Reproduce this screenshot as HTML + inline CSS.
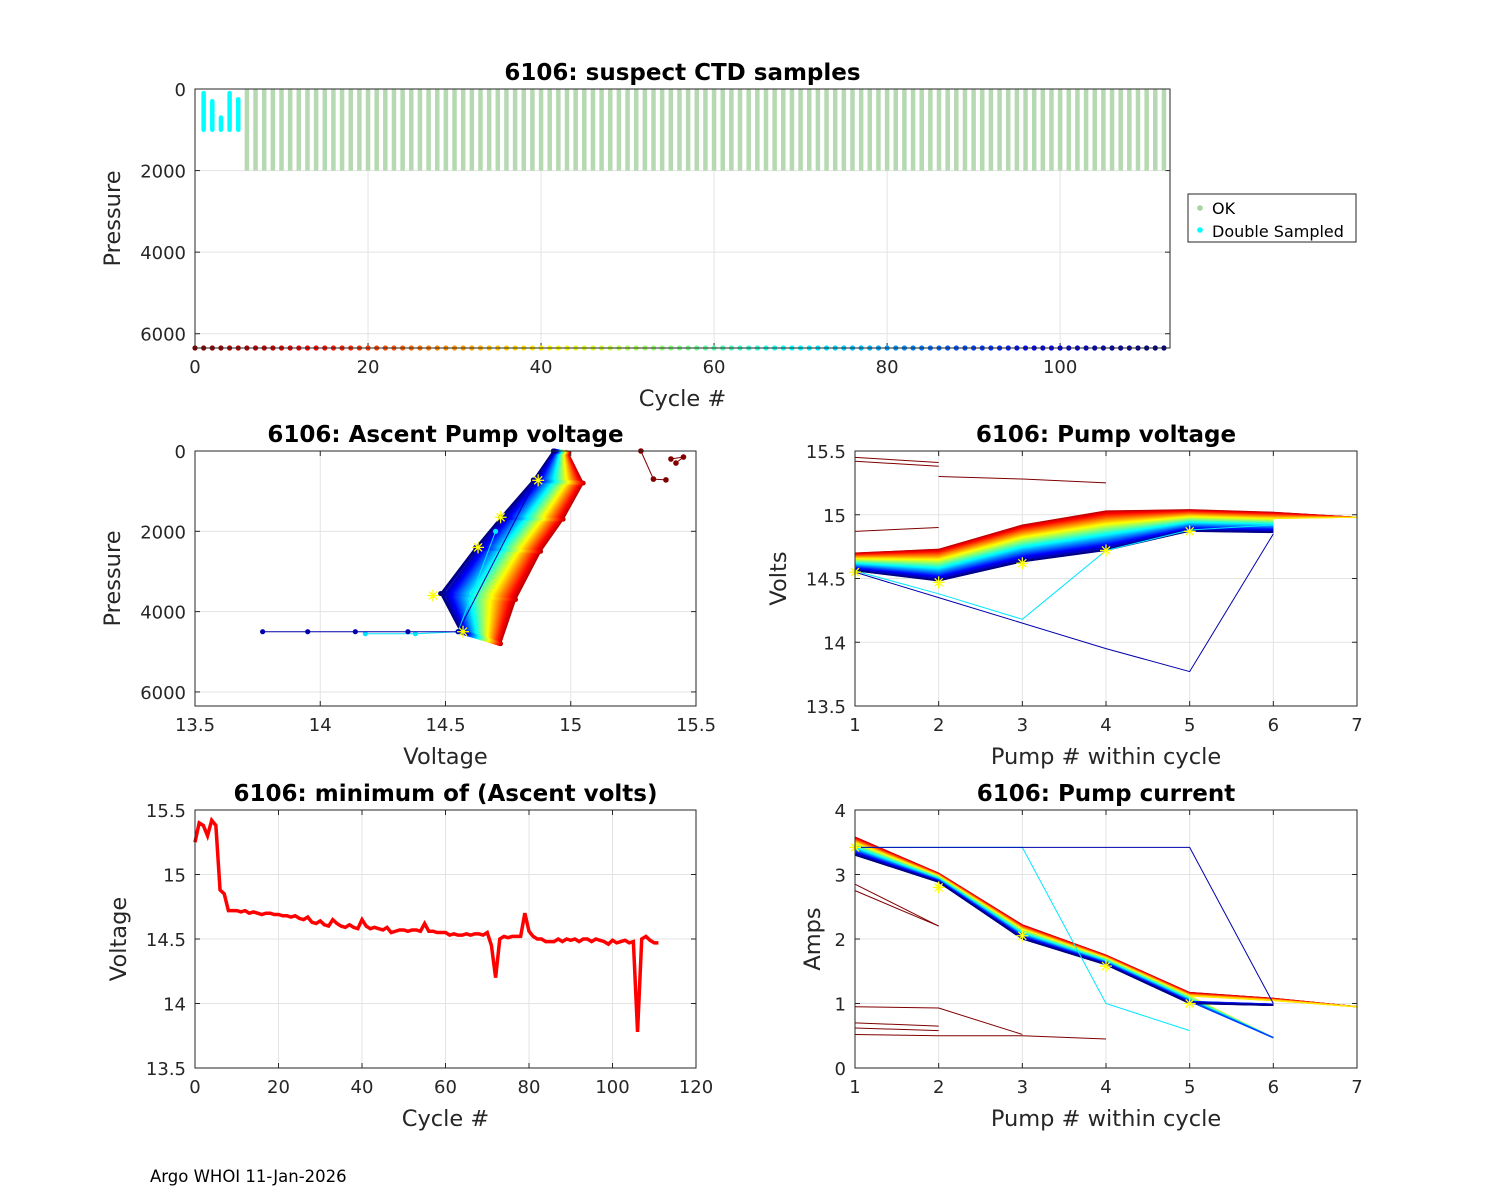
<!DOCTYPE html>
<html><head><meta charset="utf-8">
<style>
body{margin:0;background:#fff;}
svg{display:block;font-family:"DejaVu Sans","Liberation Sans",sans-serif;}
.tick{font-size:18px;fill:#262626;}
.lab{font-size:22.5px;fill:#262626;}
.ttl{font-size:23px;font-weight:bold;fill:#000;}
</style></head>
<body>
<svg id="fig" width="1500" height="1200" xmlns="http://www.w3.org/2000/svg">
<rect width="1500" height="1200" fill="#fff"/>
<text x="150" y="1182" font-size="16.5" fill="#000">Argo WHOI 11-Jan-2026</text>
</svg>
<script>
// ---- data ----
const minVolts = [15.25,15.40,15.38,15.30,15.42,15.38,14.88,14.85,14.72,
14.72,14.72,14.71,14.72,14.70,14.71,14.70,14.69,14.70,14.70,14.69,
14.69,14.68,14.68,14.67,14.68,14.66,14.65,14.67,14.63,14.62,
14.64,14.61,14.60,14.65,14.62,14.60,14.59,14.61,14.59,14.58,
14.65,14.60,14.58,14.59,14.58,14.57,14.59,14.55,14.56,14.57,
14.57,14.56,14.57,14.57,14.56,14.62,14.56,14.56,14.55,14.55,
14.55,14.53,14.54,14.53,14.53,14.54,14.53,14.54,14.54,14.53,
14.55,14.45,14.20,14.50,14.52,14.51,14.52,14.52,14.52,14.70,
14.56,14.52,14.50,14.50,14.48,14.48,14.48,14.50,14.48,14.50,
14.49,14.50,14.48,14.50,14.50,14.48,14.50,14.49,14.48,14.46,
14.49,14.47,14.48,14.49,14.47,14.48,13.78,14.50,14.52,14.49,
14.47,14.47];
const okCycles = [6,112];
const okPressure = [0,2000];
const dblCycles = [1,2,3,4,5];
const dblTop = [100,300,700,100,250];
const dblBottom = [1000,1000,1000,1000,1000];
const ascPEarly = [50,800,1700,2500,3700,4800];
const ascVEarly = [14.99,15.05,14.97,14.88,14.78,14.72];
const ascPLate = [0,720,1650,2400,3550,4500];
const ascVLate = [14.93,14.85,14.72,14.62,14.48,14.56];
const earlyAscV = [15.28,15.33,15.38,15.42,15.45,15.40];
const earlyAscP = [0,700,720,300,150,200];
const outAscV106 = [13.77,13.95,14.14,14.35,14.55,14.86];
const outAscP106 = [4500,4500,4500,4500,4500,730];
const outAscV72 = [14.18,14.38,14.55,14.70];
const outAscP72 = [4550,4550,4500,2000];
const pumpVEarly = [14.70,14.73,14.92,15.03,15.04,15.02,14.98];
const pumpVLate = [14.56,14.48,14.63,14.72,14.87,14.86];
const pumpVOut106 = [14.55,14.35,14.15,13.95,13.77,14.85];
const pumpVOut72 = [14.56,14.38,14.18,14.72,14.88,14.92];
const pumpVOld = [[15.45,15.41],[15.42,15.38],[15.30,15.28,15.25],[14.87,14.90]];
const pumpVOldStart = [1,1,2,1];
const pumpIEarly = [3.58,3.02,2.22,1.75,1.17,1.08,0.95];
const pumpILate = [3.30,2.88,2.00,1.60,1.00,0.97];
const pumpIOut106 = [3.42,3.42,3.42,3.42,3.42,1.00];
const pumpIOut72 = [3.42,3.42,3.42,1.00,0.58];
const pumpIOld = [[0.95,0.93,0.52],[0.70,0.65],[0.62,0.58],[0.52,0.50,0.50,0.45],[2.85,2.20],[2.75,2.20]];
const lowSixthCycles = [40,90];
const lowSixthAmps = 0.47;
const starsV = [14.55,14.47,14.62,14.72,14.87];
const starsI = [3.42,2.80,2.05,1.58,1.00];
const starsAscV = [14.87,14.72,14.63,14.45,14.57];
const starsAscP = [730,1650,2400,3600,4500];

// ---- helpers ----
const NS="http://www.w3.org/2000/svg";
const fig=document.getElementById('fig');
function mk(tag,attrs,parent){const e=document.createElementNS(NS,tag);for(const k in attrs)e.setAttribute(k,attrs[k]);(parent||fig).appendChild(e);return e;}
function jet(v){
  const r=Math.max(0,Math.min(1,1.5-Math.abs(4*v-3)));
  const g=Math.max(0,Math.min(1,1.5-Math.abs(4*v-2)));
  const b=Math.max(0,Math.min(1,1.5-Math.abs(4*v-1)));
  return `rgb(${Math.round(r*255)},${Math.round(g*255)},${Math.round(b*255)})`;}
function cycColor(c){return jet(1-c/111);}
function axes(o){
  const {x0,x1,y0,y1,xmin,xmax,ymin,ymax,xt,yt,rev,name}=o;
  const g=mk('g',{});
  
  
  const X=v=>x0+(v-xmin)/(xmax-xmin)*(x1-x0);
  const Y=rev? v=>y0+(v-ymin)/(ymax-ymin)*(y1-y0) : v=>y1-(v-ymin)/(ymax-ymin)*(y1-y0);
  mk('rect',{x:x0,y:y0,width:x1-x0,height:y1-y0,fill:'#fff'},g);
  xt.forEach(t=>{const x=X(t);mk('line',{x1:x,x2:x,y1:y0,y2:y1,stroke:'#e3e3e3','stroke-width':1},g);
    mk('line',{x1:x,x2:x,y1:y1,y2:y1-5,stroke:'#262626'},g);mk('line',{x1:x,x2:x,y1:y0,y2:y0+5,stroke:'#262626'},g);
    const tx=mk('text',{x:x,y:y1+25,'text-anchor':'middle',class:'tick'},g);tx.textContent=t;
    
    });
  yt.forEach(t=>{const y=Y(t);mk('line',{x1:x0,x2:x1,y1:y,y2:y,stroke:'#e3e3e3','stroke-width':1},g);
    mk('line',{x1:x0,x2:x0+5,y1:y,y2:y,stroke:'#262626'},g);mk('line',{x1:x1,x2:x1-5,y1:y,y2:y,stroke:'#262626'},g);
    const tx=mk('text',{x:x0-9,y:y+7,'text-anchor':'end',class:'tick'},g);tx.textContent=t;
    
    });
  const data=mk('g',{},g);
  
  
  const fr=mk('rect',{x:x0,y:y0,width:x1-x0,height:y1-y0,fill:'none',stroke:'#262626','stroke-width':1},g);
  
  
  const tt=mk('text',{x:(x0+x1)/2,y:y0-9,'text-anchor':'middle',class:'ttl'},g);tt.textContent=o.title;
  
  
  const xl=mk('text',{x:(x0+x1)/2,y:y1+58,'text-anchor':'middle',class:'lab'},g);xl.textContent=o.xlabel;
  
  
  const yl=mk('text',{x:0,y:0,'text-anchor':'middle',class:'lab',transform:`translate(${o.ylx},${(y0+y1)/2}) rotate(-90)`},g);yl.textContent=o.ylabel;
  
  
  return {X,Y,g:data};}
function poly(ax,xs,ys,col,w,name){const p=mk('polyline',{points:xs.map((v,i)=>ax.X(v)+','+ax.Y(ys[i])).join(' '),fill:'none',stroke:col,'stroke-width':w||1},ax.g);
  
  return p;}
function dots(ax,xs,ys,col,r){xs.forEach((v,i)=>{const d=mk('circle',{cx:ax.X(v),cy:ax.Y(ys[i]),r:r||2.5,fill:col},ax.g);
  
  });}
function star(ax,x,y){const cx=ax.X(x),cy=ax.Y(y),s=6;const g=mk('g',{stroke:'#ffff00','stroke-width':1.3},ax.g);
  
  
  mk('line',{x1:cx-s,x2:cx+s,y1:cy,y2:cy},g);mk('line',{x1:cx,x2:cx,y1:cy-s,y2:cy+s},g);
  mk('line',{x1:cx-4,x2:cx+4,y1:cy-4,y2:cy+4},g);mk('line',{x1:cx-4,x2:cx+4,y1:cy+4,y2:cy-4},g);}
const lerp=(a,b,t)=>a+(b-a)*t;
const tOf=c=>(c-6)/(111-6);

// ---- top ----
const A1=axes({x0:195,x1:1170,y0:89,y1:348,xmin:0,xmax:112.7,ymin:0,ymax:6350,rev:true,
 xt:[0,20,40,60,80,100],yt:[0,2000,4000,6000],title:'6106: suspect CTD samples',xlabel:'Cycle #',ylabel:'Pressure',ylx:120,name:'suspect-ctd-chart'});
for(let c=okCycles[0];c<=okCycles[1];c++){
  const b=mk('line',{x1:A1.X(c),x2:A1.X(c),y1:A1.Y(okPressure[0]),y2:A1.Y(okPressure[1]),stroke:'#b5d9b0','stroke-width':4.5},A1.g);
  
  }
dblCycles.forEach((c,i)=>{const b=mk('line',{x1:A1.X(c),x2:A1.X(c),y1:A1.Y(dblTop[i]),y2:A1.Y(dblBottom[i]),stroke:'#00ffff','stroke-width':4.5,'stroke-linecap':'round'},A1.g);
  
  });
for(let c=0;c<=112;c++){const d=mk('circle',{cx:A1.X(c),cy:348,r:2.6,fill:cycColor(Math.min(c,111))},A1.g);
  
  }
const lg=mk('g',{});


mk('rect',{x:1188,y:194,width:168,height:48,fill:'#fff',stroke:'#262626'},lg);
mk('circle',{cx:1200,cy:208,r:2.8,fill:'#a6d49f'},lg);
mk('circle',{cx:1200,cy:230,r:2.8,fill:'#00ffff'},lg);
const l1=mk('text',{x:1212,y:214,'font-size':16,fill:'#000'},lg);l1.textContent='OK';


const l2=mk('text',{x:1212,y:237,'font-size':16,fill:'#000'},lg);l2.textContent='Double Sampled';



// ---- middle left ----
const A2=axes({x0:195,x1:696,y0:451,y1:706,xmin:13.5,xmax:15.5,ymin:0,ymax:6350,rev:true,
 xt:[13.5,14,14.5,15,15.5],yt:[0,2000,4000,6000],title:'6106: Ascent Pump voltage',xlabel:'Voltage',ylabel:'Pressure',ylx:120,name:'ascent-pump-voltage-chart'});
poly(A2,earlyAscV.slice(0,3),earlyAscP.slice(0,3),'#800000',1);dots(A2,earlyAscV,earlyAscP,'#800000',2.8);
poly(A2,earlyAscV.slice(3),earlyAscP.slice(3),'#800000',1);
for(let c=6;c<=111;c++){if(c===72||c===106)continue;const t=tOf(c);
  const xs=ascVEarly.map((v,i)=>lerp(v,ascVLate[i],t)),ys=ascPEarly.map((v,i)=>lerp(v,ascPLate[i],t));
  poly(A2,xs,ys,cycColor(c),1.2);dots(A2,xs,ys,cycColor(c),2.4);}
poly(A2,outAscV72,outAscP72,cycColor(72),1);dots(A2,outAscV72,outAscP72,cycColor(72),2.6);
poly(A2,outAscV106,outAscP106,cycColor(106),1);dots(A2,outAscV106,outAscP106,cycColor(106),2.6);
starsAscV.forEach((v,i)=>star(A2,v,starsAscP[i]));

// ---- middle right ----
const A3=axes({x0:855,x1:1357,y0:451,y1:706,xmin:1,xmax:7,ymin:13.5,ymax:15.5,
 xt:[1,2,3,4,5,6,7],yt:[13.5,14,14.5,15,15.5],title:'6106: Pump voltage',xlabel:'Pump # within cycle',ylabel:'Volts',ylx:786,name:'pump-voltage-chart'});
pumpVOld.forEach((arr,k)=>poly(A3,arr.map((_,i)=>pumpVOldStart[k]+i),arr,'#800000',1));
for(let c=6;c<=111;c++){if(c===72||c===106)continue;const t=tOf(c);
  const n=c<40?7:6;const xs=[],ys=[];
  for(let i=0;i<n;i++){xs.push(i+1);ys.push(i<6?lerp(pumpVEarly[i],pumpVLate[i],t):pumpVEarly[6]);}
  poly(A3,xs,ys,cycColor(c),1);}
poly(A3,pumpVOut72.map((_,i)=>i+1),pumpVOut72,cycColor(72),1);
poly(A3,pumpVOut106.map((_,i)=>i+1),pumpVOut106,cycColor(106),1);
starsV.forEach((v,i)=>star(A3,i+1,v));

// ---- bottom left ----
const A4=axes({x0:195,x1:696,y0:810,y1:1068,xmin:0,xmax:120,ymin:13.5,ymax:15.5,
 xt:[0,20,40,60,80,100,120],yt:[13.5,14,14.5,15,15.5],title:'6106: minimum of (Ascent volts)',xlabel:'Cycle #',ylabel:'Voltage',ylx:126,name:'min-ascent-volts-chart'});
poly(A4,minVolts.map((_,i)=>i),minVolts,'#ff0000',3.5,'min-volts-line');

// ---- bottom right ----
const A5=axes({x0:855,x1:1357,y0:810,y1:1068,xmin:1,xmax:7,ymin:0,ymax:4,
 xt:[1,2,3,4,5,6,7],yt:[0,1,2,3,4],title:'6106: Pump current',xlabel:'Pump # within cycle',ylabel:'Amps',ylx:820,name:'pump-current-chart'});
pumpIOld.forEach(arr=>poly(A5,arr.map((_,i)=>1+i),arr,'#800000',1));
for(let c=6;c<=111;c++){if(c===72||c===106)continue;const t=tOf(c);
  const n=c<40?7:6;const xs=[],ys=[];
  for(let i=0;i<n;i++){xs.push(i+1);
    let v=i<6?lerp(pumpIEarly[i],pumpILate[i],t):pumpIEarly[6];
    if(i===5&&c>=lowSixthCycles[0]&&c<=lowSixthCycles[1])v=lowSixthAmps;
    ys.push(v);}
  poly(A5,xs,ys,cycColor(c),1.2);}
poly(A5,pumpIOut72.map((_,i)=>i+1),pumpIOut72,cycColor(72),1);
poly(A5,pumpIOut106.map((_,i)=>i+1),pumpIOut106,cycColor(106),1);
starsI.forEach((v,i)=>star(A5,i+1,v));
</script>
</body></html>
